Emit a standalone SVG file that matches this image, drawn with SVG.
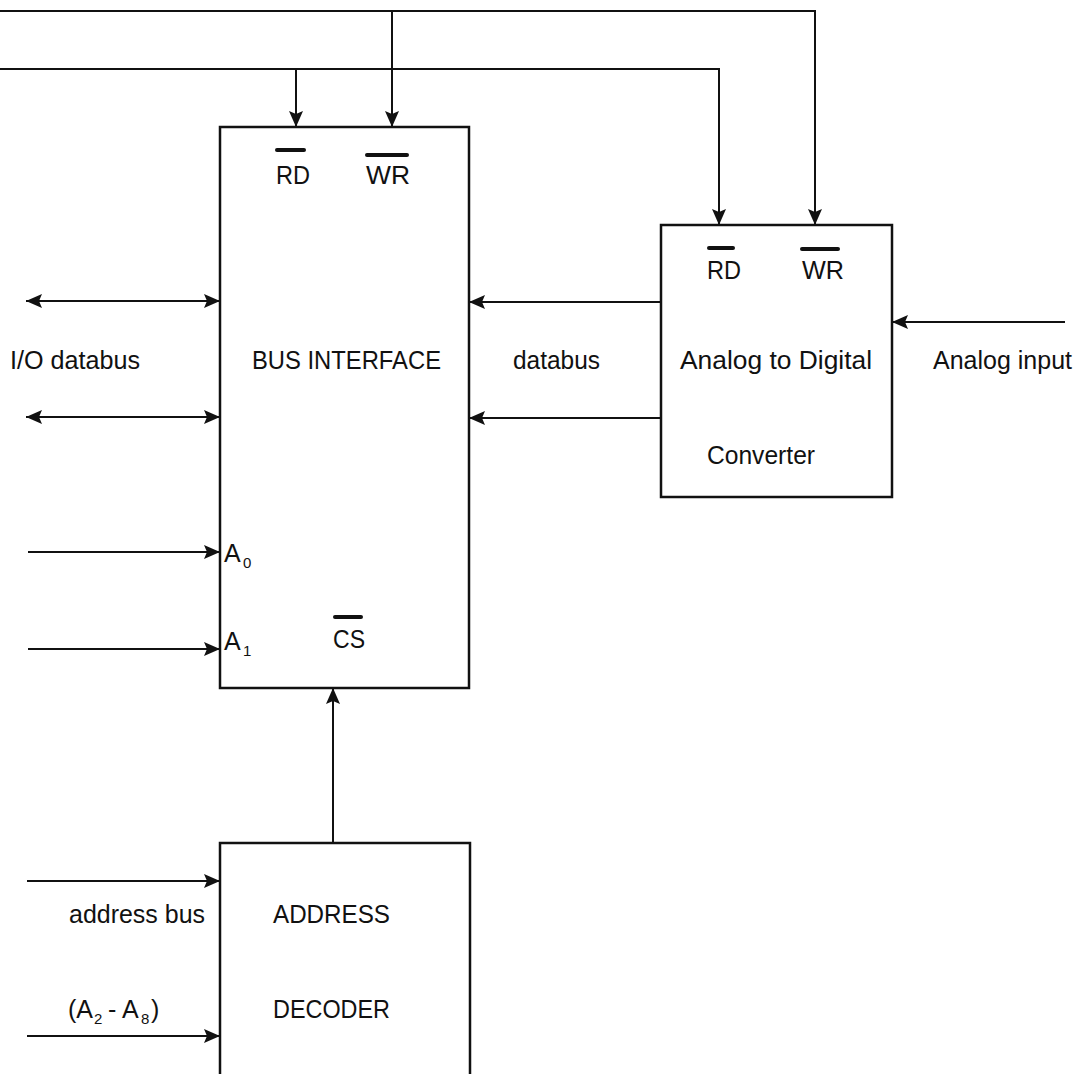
<svg xmlns="http://www.w3.org/2000/svg" width="1080" height="1074" viewBox="0 0 1080 1074">
<style>
.box{fill:none;stroke:#111;stroke-width:2.5}
.ln{fill:none;stroke:#111;stroke-width:2}
.ar{marker-end:url(#ah)}
.bi{marker-start:url(#ah);marker-end:url(#ah)}
.ob{stroke:#111;stroke-width:4;stroke-linecap:round}
text{font-family:"Liberation Sans",Arial,sans-serif;font-size:25px;fill:#111}
.sub{font-size:15px}
</style>
<defs>
<marker id="ah" viewBox="0 0 16 14" markerWidth="16" markerHeight="14" refX="16" refY="7" orient="auto-start-reverse" markerUnits="userSpaceOnUse">
<path d="M0,0 L16,7 L0,14 L3,7 z" fill="#111"/>
</marker>
</defs>
<rect width="1080" height="1074" fill="#fff"/>
<g id="connectors">
<path class="ln" d="M0,11 H815 V225" marker-end="url(#ah)"/>
<path class="ln" d="M0,69 H719 V225" marker-end="url(#ah)"/>
<path class="ln ar" d="M392,11 V127"/>
<path class="ln ar" d="M296,69 V127"/>
<path class="ln bi" d="M26,301 H220"/>
<path class="ln bi" d="M26,417 H220"/>
<path class="ln ar" d="M661,302 H469"/>
<path class="ln ar" d="M661,418 H469"/>
<path class="ln ar" d="M1065,322 H892"/>
<path class="ln ar" d="M28,552 H220"/>
<path class="ln ar" d="M28,649 H220"/>
<path class="ln ar" d="M333,843 V688"/>
<path class="ln ar" d="M27,881 H220"/>
<path class="ln ar" d="M27,1036 H220"/>
</g>
<g id="bus-interface">
<rect class="box" x="220" y="127" width="249" height="561"/>
<line class="ob" x1="277" y1="150" x2="304" y2="150"/>
<text x="276" y="184" textLength="34" lengthAdjust="spacingAndGlyphs">RD</text>
<line class="ob" x1="367" y1="155" x2="407" y2="155"/>
<text x="366" y="184" textLength="44" lengthAdjust="spacingAndGlyphs">WR</text>
<text x="252" y="369" textLength="189" lengthAdjust="spacingAndGlyphs">BUS INTERFACE</text>
<text x="224" y="562">A</text><text class="sub" x="243" y="568">0</text>
<text x="224" y="650">A</text><text class="sub" x="243" y="656">1</text>
<line class="ob" x1="335" y1="617" x2="361" y2="617"/>
<text x="333" y="648" textLength="32" lengthAdjust="spacingAndGlyphs">CS</text>
</g>
<g id="adc">
<rect class="box" x="661" y="225" width="231" height="272"/>
<line class="ob" x1="709" y1="248" x2="733" y2="248"/>
<text x="707" y="279" textLength="34" lengthAdjust="spacingAndGlyphs">RD</text>
<line class="ob" x1="802" y1="249" x2="838" y2="249"/>
<text x="802" y="279" textLength="42" lengthAdjust="spacingAndGlyphs">WR</text>
<text x="680" y="369" textLength="192" lengthAdjust="spacingAndGlyphs">Analog to Digital</text>
<text x="707" y="464" textLength="108" lengthAdjust="spacingAndGlyphs">Converter</text>
</g>
<g id="address-decoder">
<path class="box" d="M220,1074 V843 H470 V1074"/>
<text x="273" y="923" textLength="117" lengthAdjust="spacingAndGlyphs">ADDRESS</text>
<text x="273" y="1018" textLength="117" lengthAdjust="spacingAndGlyphs">DECODER</text>
</g>
<g id="labels">
<text x="10" y="369" textLength="130" lengthAdjust="spacingAndGlyphs">I/O databus</text>
<text x="513" y="369" textLength="87" lengthAdjust="spacingAndGlyphs">databus</text>
<text x="933" y="369" textLength="139" lengthAdjust="spacingAndGlyphs">Analog input</text>
<text x="69" y="923" textLength="136" lengthAdjust="spacingAndGlyphs">address bus</text>
<text x="68" y="1018">(A</text><text class="sub" x="94" y="1024">2</text><text x="108" y="1018">- A</text><text class="sub" x="141" y="1024">8</text><text x="151" y="1018">)</text>
</g>
</svg>
